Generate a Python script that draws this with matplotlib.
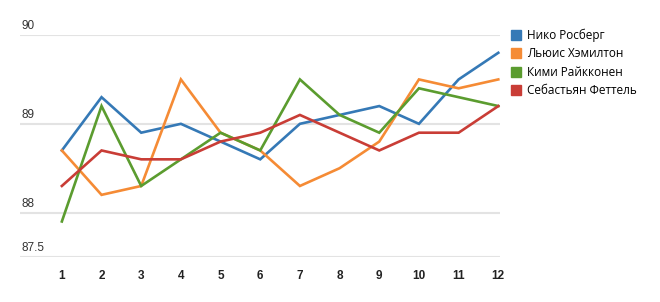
import matplotlib
matplotlib.use('Agg')
import matplotlib.pyplot as plt
from matplotlib.lines import Line2D

# Данные гонок
races = list(range(1, 13))
rosberg = [88.7, 89.3, 88.9, 89.0, 88.8, 88.6, 89.0, 89.1, 89.2, 89.0, 89.5, 89.8]
hamilton = [88.7, 88.2, 88.3, 89.5, 88.9, 88.7, 88.3, 88.5, 88.8, 89.5, 89.4, 89.5]
raikkonen = [87.9, 89.2, 88.3, 88.6, 88.9, 88.7, 89.5, 89.1, 88.9, 89.4, 89.3, 89.2]
vettel = [88.3, 88.7, 88.6, 88.6, 88.8, 88.9, 89.1, 88.9, 88.7, 88.9, 88.9, 89.2]

names = ['Нико Росберг', 'Льюис Хэмилтон', 'Кими Райкконен', 'Себастьян Феттель']
colors = ['#3579b6', '#f58b35', '#5b9c2f', '#c93d36']
series = [rosberg, hamilton, raikkonen, vettel]
y_ticks = [87.5, 88, 89, 90]

fig = plt.figure(figsize=(6.6, 3.02), dpi=100, facecolor='white')
ax = fig.add_axes([0.030, 0.149, 0.728, 0.735])

for yt in y_ticks:
    ax.axhline(yt, color='#e3e3e3', lw=1.5, zorder=0)
    ax.text(0.003, yt + 0.035, f'{yt:g}', transform=ax.get_yaxis_transform(),
            fontsize=8.5, color='#333333', va='bottom', ha='left',
            family='Liberation Sans')

for vals, c in zip(series, colors):
    ax.plot(races, vals, color=c, lw=1.9, clip_on=False, solid_joinstyle='miter')

ax.set_xlim(-0.06, 12.05)
ax.set_ylim(87.5, 90)
ax.set_xticks(races)
ax.set_xticklabels([str(r) for r in races], fontsize=8.5, fontweight='bold',
                   color='#222222', family='Liberation Sans')
ax.tick_params(axis='x', length=0, pad=9)
ax.set_yticks([])
for s in ax.spines.values():
    s.set_visible(False)

handles = [Line2D([], [], marker='s', ls='none', color=c, markersize=6.5) for c in colors]
fig.legend(handles, names, loc='upper left', bbox_to_anchor=(0.755, 0.94),
           frameon=False, handletextpad=0.35, labelspacing=0.45,
           handlelength=1.2, prop={'family': 'Open Sans', 'size': 8.5})

fig.savefig('out.png', dpi=100, facecolor='white')
